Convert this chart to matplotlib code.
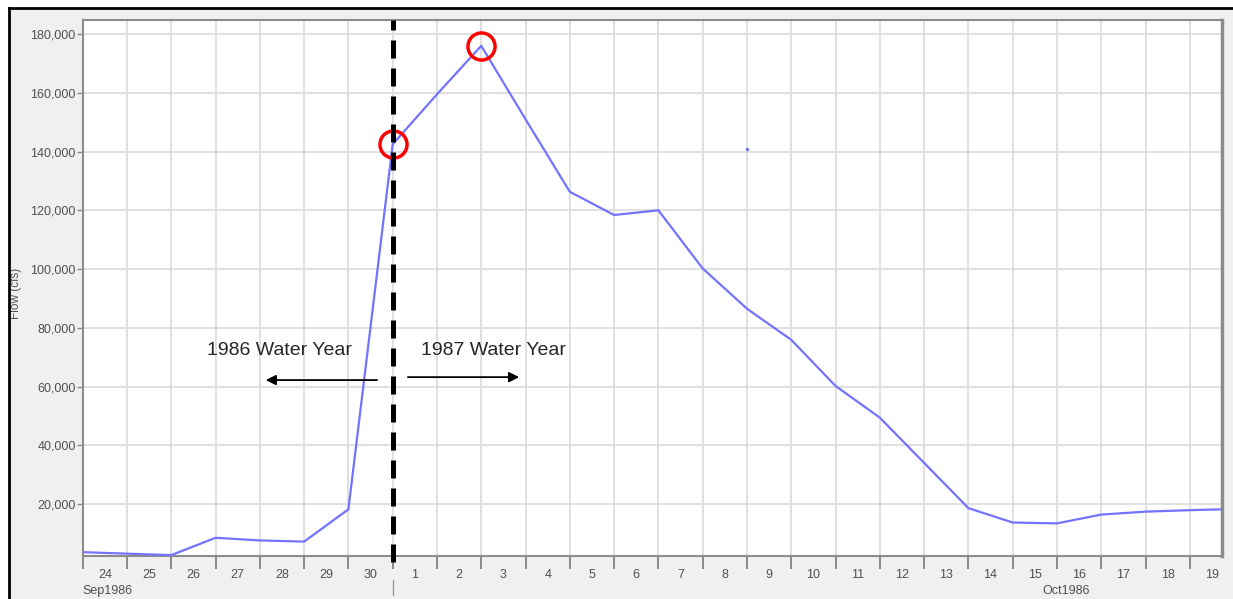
import matplotlib
matplotlib.use("Agg")
import matplotlib.pyplot as plt
import matplotlib.dates as mdates
from matplotlib.ticker import FuncFormatter, FixedLocator
from matplotlib.patches import Rectangle
from matplotlib.lines import Line2D
import pandas as pd

# daily flow, plotted at end of day (24:00) like HEC-DSSVue
days = pd.date_range("1986-09-23", "1986-10-19")
flow = [3600, 3100, 2600, 8500, 7600, 7200, 18200, 142500,
        159500, 176000, 151000, 126300, 118400, 120000, 100200, 86500,
        75900, 60200, 49400, 34000, 18600, 13700, 13400, 16400,
        17400, 17900, 18300]
circled = ["1986-09-30", "1986-10-02"]
stray_day = "1986-10-08"
stray_flow = 141000
water_year_split = "1986-10-01"
yticks = [20000, 40000, 60000, 80000, 100000, 120000, 140000, 160000, 180000]

plt.rcParams["font.family"] = ["Liberation Sans", "DejaVu Sans"]

W, H = 1233, 599
fig = plt.figure(figsize=(W / 100, H / 100), dpi=100)
fig.patch.set_facecolor("white")

# gray panel with black frame on top and left
fig.patches.append(Rectangle((9 / W, 0), 1, (H - 8) / H, transform=fig.transFigure,
                             facecolor="#f0f0f0", edgecolor="none", zorder=-10))
fig.lines.append(Line2D([9 / W, 9 / W], [0, (H - 8) / H], transform=fig.transFigure,
                        color="black", lw=2))
fig.lines.append(Line2D([9 / W, 1], [(H - 8) / H, (H - 8) / H], transform=fig.transFigure,
                        color="black", lw=2))

ax = fig.add_axes([82.7 / W, (H - 556) / H, (1221.7 - 82.7) / W, (556 - 20) / H])
ax.set_facecolor("white")

x = days + pd.Timedelta(days=1)
ax.plot(x, flow, color="#7373ff", lw=1.6, zorder=3)

# stray point in the original plot
ax.plot(pd.Timestamp(stray_day) + pd.Timedelta(days=1), stray_flow, "o",
        color="#7373ff", ms=1.5, zorder=3)

# red circles on the two highlighted days
for d in circled:
    ts = pd.Timestamp(d)
    ax.plot(ts + pd.Timedelta(days=1), flow[list(days).index(ts)], "o", ms=19.5,
            mfc="none", mec="#ff0000", mew=2.5, zorder=4)

split = pd.Timestamp(water_year_split)
ax.axvline(split, ymin=-0.012, ymax=1, color="black", lw=3.6,
           linestyle=(0, (3.6, 2.0)), clip_on=False, zorder=5)

# water year annotations
ax.annotate("", xy=(split - pd.Timedelta(hours=2.93 * 24), 62200),
            xytext=(split - pd.Timedelta(hours=0.29 * 24), 62200),
            arrowprops=dict(arrowstyle="-|>", color="black", lw=1.3, mutation_scale=15))
ax.annotate("", xy=(split + pd.Timedelta(hours=2.92 * 24), 63200),
            xytext=(split + pd.Timedelta(hours=0.28 * 24), 63200),
            arrowprops=dict(arrowstyle="-|>", color="black", lw=1.3, mutation_scale=15))
ax.text(split - pd.Timedelta(hours=2.56 * 24), 72300, "1986 Water Year",
        ha="center", va="center", fontsize=14, color="#262626")
ax.text(split + pd.Timedelta(hours=2.28 * 24), 72300, "1987 Water Year",
        ha="center", va="center", fontsize=14, color="#262626")

ax.set_xlim(pd.Timestamp("1986-09-24"), pd.Timestamp("1986-09-24") + pd.Timedelta(hours=25.72 * 24))
ax.set_ylim(2300, 184800)

ax.yaxis.set_major_locator(FixedLocator(yticks))
ax.yaxis.set_major_formatter(FuncFormatter(lambda v, p: f"{int(v):,}"))
ax.tick_params(axis="y", length=4, width=1, color="#888888", labelsize=9,
               labelcolor="#505050", pad=1)

ax.xaxis.set_major_locator(mdates.DayLocator())
ax.xaxis.set_major_formatter(FuncFormatter(lambda v, p: ""))
ax.xaxis.set_minor_locator(mdates.HourLocator(byhour=12))
ax.xaxis.set_minor_formatter(FuncFormatter(lambda v, p: str(mdates.num2date(v).day)))
ax.tick_params(axis="x", which="major", length=9, width=1.2, color="#777777")
ax.tick_params(axis="x", which="minor", length=0, labelsize=9, labelcolor="#505050", pad=9)

ax.grid(True, which="major", color="#dddddd", lw=1.3)
ax.set_axisbelow(True)
for s in ax.spines.values():
    s.set_color("#8c8c8c")
    s.set_linewidth(1.5)
ax.spines["right"].set_linewidth(2.5)

ax.set_ylabel("Flow (cfs)", fontsize=8.5, color="#555555", labelpad=0)
ax.yaxis.set_label_coords(-61 / (1221.7 - 82.7), 0.49)

# month labels and separator
ax.text(0, -0.066, "Sep1986", transform=ax.transAxes, ha="left", va="center",
        fontsize=9, color="#505050")
ax.text(pd.Timestamp("1986-10-16 05:00"), -0.066, "Oct1986",
        transform=ax.get_xaxis_transform(), ha="center", va="center",
        fontsize=9, color="#505050")
ax.plot([split, split], [-0.045, -0.072], transform=ax.get_xaxis_transform(),
        color="#999999", lw=1, clip_on=False)

fig.savefig("out.png", dpi=100)
